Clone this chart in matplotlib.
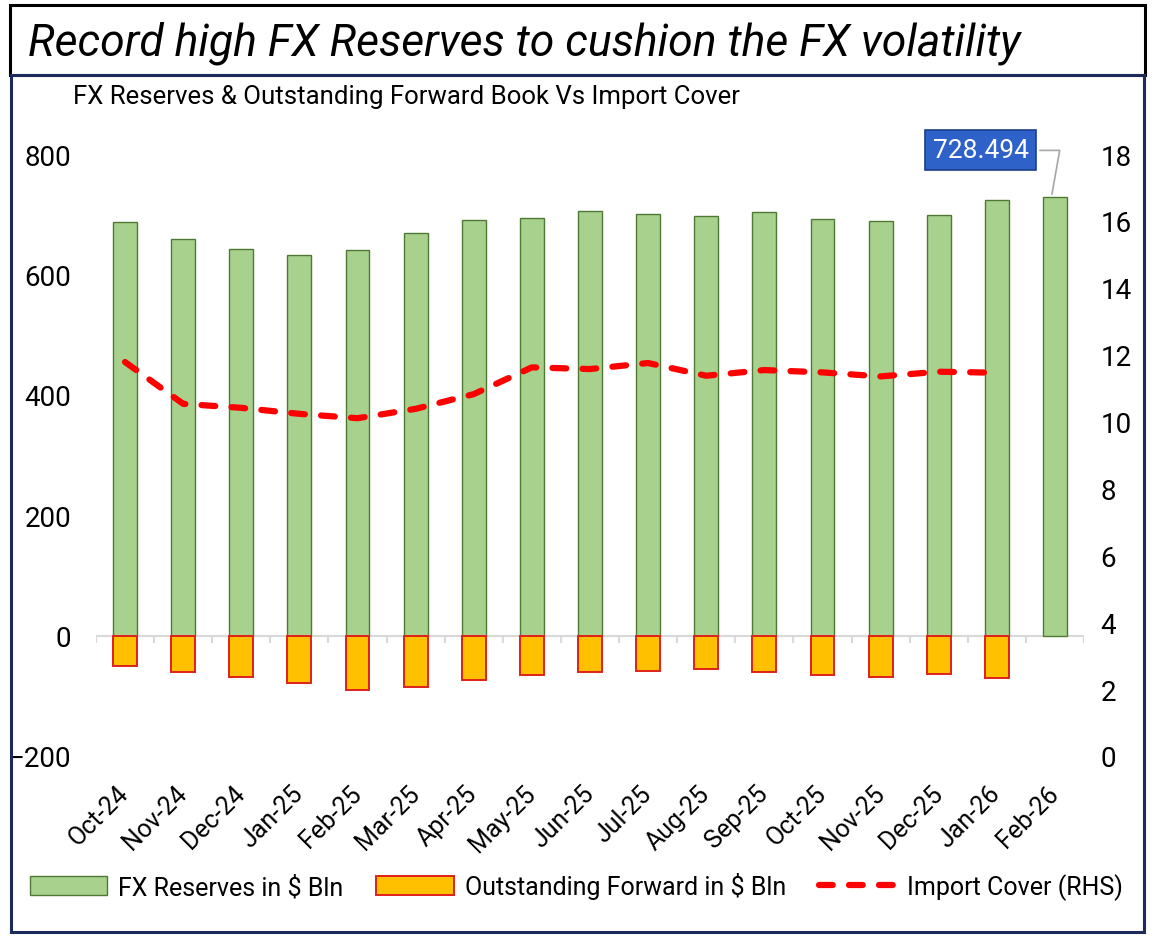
import numpy as np
import matplotlib
matplotlib.use("Agg")
import matplotlib.pyplot as plt
from matplotlib.patches import Rectangle, Patch
from matplotlib.lines import Line2D

plt.rcParams['font.family'] = ['Roboto', 'DejaVu Sans']

months = ["Oct-24", "Nov-24", "Dec-24", "Jan-25", "Feb-25", "Mar-25", "Apr-25", "May-25",
          "Jun-25", "Jul-25", "Aug-25", "Sep-25", "Oct-25", "Nov-25", "Dec-25", "Jan-26", "Feb-26"]

# FX reserves ($ bln)
reserves = [687, 659, 642, 632, 641, 669, 690, 694, 705, 700, 697, 704, 692, 689, 699, 723, 728.494]
# outstanding forward book ($ bln, shown negative)
forwards = [-50, -60, -69, -79, -90, -86, -74, -66, -61, -59, -55, -60, -65, -68, -64, -70]
# import cover in months (RHS)
import_cover = [11.78, 10.53, 10.41, 10.23, 10.10, 10.38, 10.82, 11.62, 11.57, 11.75,
                11.37, 11.54, 11.47, 11.35, 11.49, 11.46]

fig = plt.figure(figsize=(11.53, 9.37), dpi=100)
W, H = 1153, 937

# title box + outer frame
fig.patches.append(Rectangle((10 / W, 1 - 76 / H), 1135 / W, 70 / H, transform=fig.transFigure,
                             fill=False, ec="black", lw=2.2))
fig.patches.append(Rectangle((11 / W, 1 - 933 / H), 1133 / W, 857 / H, transform=fig.transFigure,
                             fill=False, ec="#1c2b5a", lw=2.2))
fig.text(28 / W, 1 - 43 / H, "Record high FX Reserves to cushion the FX volatility",
         fontsize=32, style="italic", va="center", ha="left", color="black")
fig.text(73 / W, 1 - 97 / H, "FX Reserves & Outstanding Forward Book Vs Import Cover",
         fontsize=18.5, va="center", ha="left", color="black")

ax = fig.add_axes([96 / W, 1 - 757 / H, 988 / W, 602 / H])
x = np.arange(len(months))
w = 0.41

ax.bar(x, reserves, width=w, color="#a9d18e", edgecolor="#4e7a33", linewidth=1.0,
       label="FX Reserves in $ Bln", zorder=2)
ax.bar(x[:len(forwards)], forwards, width=w, color="#ffc000", edgecolor="#e0201b", linewidth=1.4,
       label="Outstanding Forward in $ Bln", zorder=2)

ax.set_xlim(-0.5, len(months) - 0.5)
ax.set_ylim(-200, 800)
ax.set_yticks(range(-200, 801, 200))
ax.set_xticks(x)
ax.set_xticklabels(months, rotation=45, ha="right", va="center", rotation_mode="anchor", fontsize=18)
ax.tick_params(axis="x", length=0, pad=24)
ax.tick_params(axis="y", length=0, pad=18, labelsize=20)
for s in ax.spines.values():
    s.set_visible(False)

# zero line with category ticks
ax.axhline(0, color="#d9d9d9", lw=1.5, zorder=1)
ax.vlines(np.arange(-0.5, len(months) - 0.4, 1.0), -12, 0, color="#d9d9d9", lw=1.5, zorder=1)

ax2 = ax.twinx()
dash = (0, (2.2, 2.6))
ax2.plot(x[:len(import_cover)], import_cover, color="#ff0000", lw=4.5, ls=dash,
         dash_capstyle="round", label="Import Cover (RHS)", zorder=3)
ax2.set_ylim(0, 18)
ax2.set_yticks(range(0, 19, 2))
ax2.tick_params(axis="y", length=0, pad=12, labelsize=20)
for s in ax2.spines.values():
    s.set_visible(False)

# callout for the latest reserves figure
ax.annotate(f"{reserves[-1]:.3f}", xy=(x[-1] - 0.06, reserves[-1]), xytext=(14.72, 806),
            textcoords="data", ha="center", va="center", fontsize=19, color="white",
            bbox=dict(boxstyle="square,pad=0.3", fc="#2f62c8", ec="#1d3f8a", lw=1.2),
            arrowprops=dict(arrowstyle="-", color="#a6a6a6", lw=1.2,
                            connectionstyle="angle,angleA=0,angleB=80,rad=0"),
            annotation_clip=False, zorder=5)

handles = [Patch(fc="#a9d18e", ec="#4e7a33", lw=1.0),
           Patch(fc="#ffc000", ec="#e0201b", lw=1.4),
           Line2D([0], [0], color="#ff0000", lw=4.5, ls=dash, dash_capstyle="round")]
labels = ["FX Reserves in $ Bln", "Outstanding Forward in $ Bln", "Import Cover (RHS)"]
fig.legend(handles, labels, loc="center", bbox_to_anchor=(0.5, 1 - 887 / H), ncol=3,
           frameon=False, fontsize=18, handlelength=3.1, handleheight=0.8, columnspacing=1.3,
           handletextpad=0.45)

fig.savefig("out.png", dpi=100)
